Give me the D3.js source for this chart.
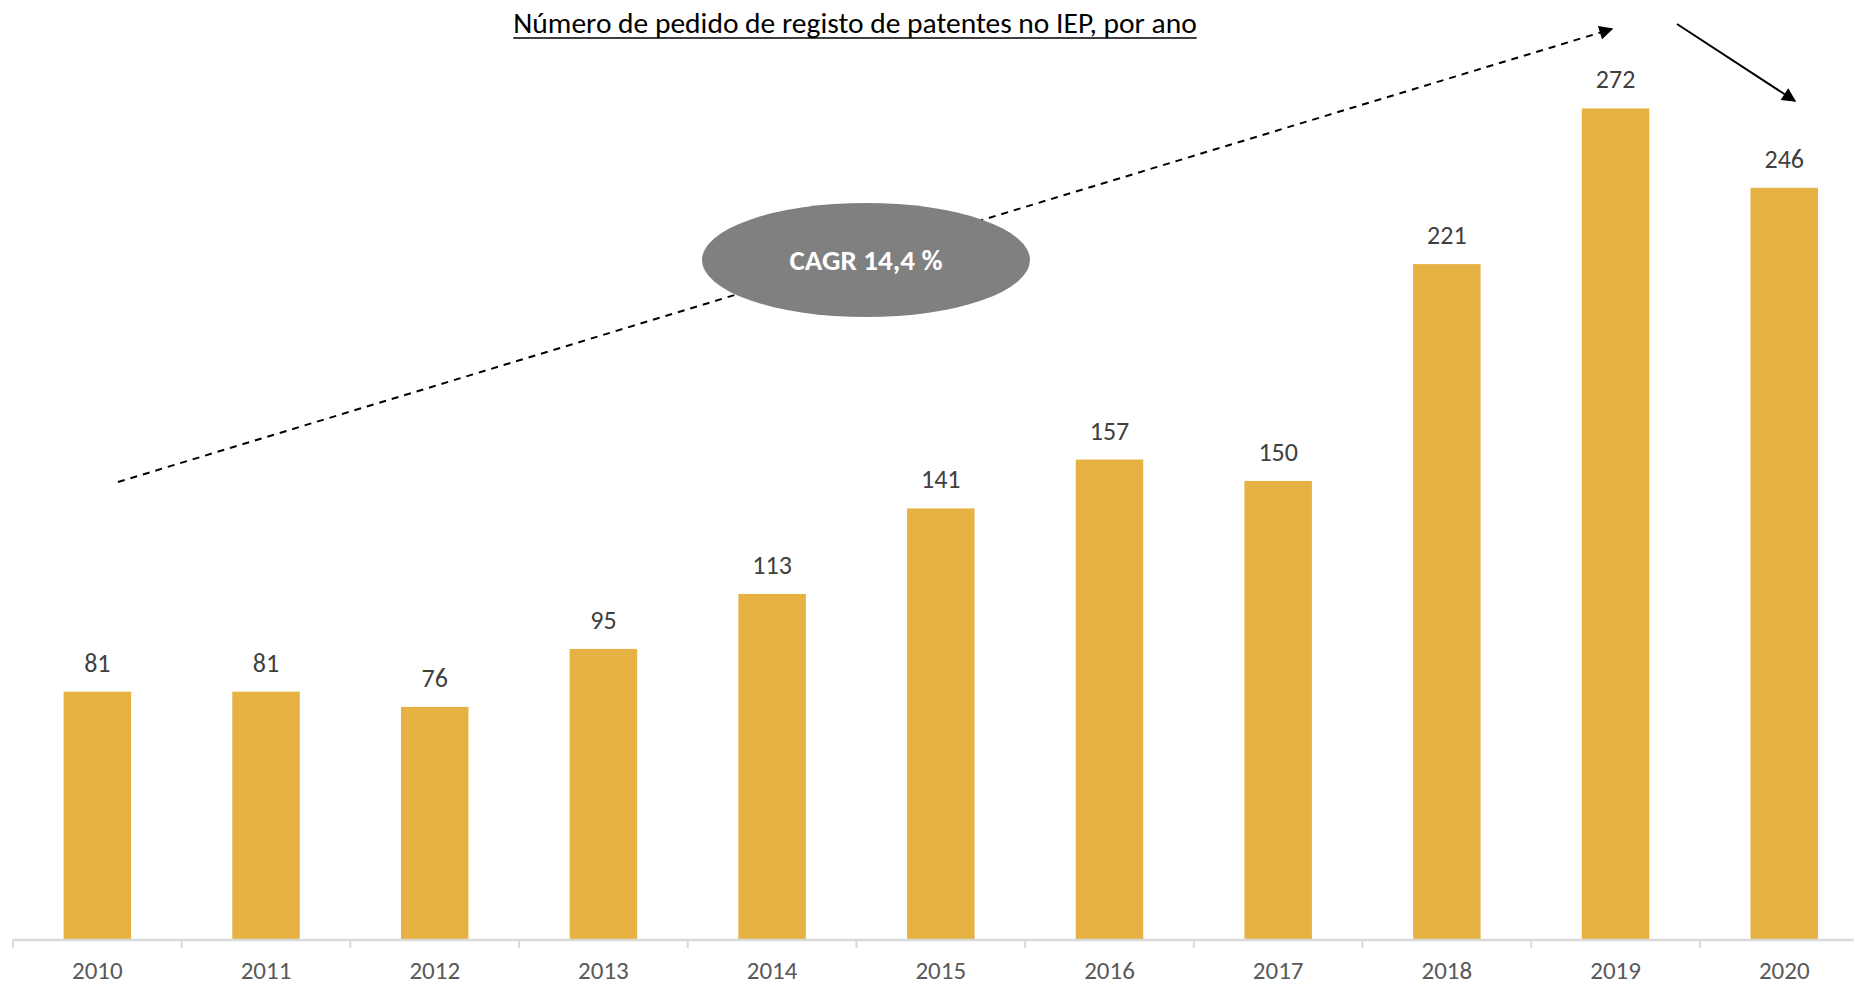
<!DOCTYPE html>
<html>
<head>
<meta charset="utf-8">
<script src="https://cdn.jsdelivr.net/npm/d3@7"></script>
<style>
  html, body { margin: 0; padding: 0; background: #fff; }
  svg { display: block; font-family: Carlito, Lato, "Open Sans", sans-serif; }
</style>
</head>
<body>
<svg id="chart" width="1854" height="985"></svg>
<script>
const years = ["2010","2011","2012","2013","2014","2015","2016","2017","2018","2019","2020"];
const values = [81, 81, 76, 95, 113, 141, 157, 150, 221, 272, 246];
const titleText = "Número de pedido de registo de patentes no IEP, por ano";
const cagrText = "CAGR 14,4 %";

const svg = d3.select("#chart");

const x = d3.scaleBand().domain(years).range([13, 1868.6]).paddingInner(0.6).paddingOuter(0.3);
const y = d3.scaleLinear().domain([0, 307.5]).range([939, 0]);

// bars
svg.append("g").selectAll("rect").data(values).join("rect")
  .attr("x", (d, i) => x(years[i]))
  .attr("y", d => y(d))
  .attr("width", x.bandwidth())
  .attr("height", d => y(0) - y(d))
  .attr("fill", "#E5B243");

// value labels
svg.append("g").selectAll("text").data(values).join("text")
  .attr("x", (d, i) => x(years[i]) + x.bandwidth() / 2)
  .attr("y", d => y(d) - 20)
  .attr("text-anchor", "middle")
  .attr("font-size", 26)
  .attr("fill", "#404040")
  .text(d => d);

// x axis
const axis = svg.append("g").attr("transform", "translate(0,940)");
axis.append("line").attr("x1", 13).attr("x2", 1868).attr("y1", 0).attr("y2", 0)
  .attr("stroke", "#d9d9d9").attr("stroke-width", 2.5);
const step = x.step();
axis.selectAll(".sep").data(d3.range(years.length + 1)).join("line")
  .attr("class", "sep")
  .attr("x1", i => 13 + i * step).attr("x2", i => 13 + i * step)
  .attr("y1", 0).attr("y2", 8)
  .attr("stroke", "#d9d9d9").attr("stroke-width", 2);
axis.selectAll(".yl").data(years).join("text")
  .attr("class", "yl")
  .attr("x", d => x(d) + x.bandwidth() / 2)
  .attr("y", 39)
  .attr("text-anchor", "middle")
  .attr("font-size", 25)
  .attr("fill", "#595959")
  .text(d => d);

// markers
const defs = svg.append("defs");
defs.append("marker").attr("id", "arr").attr("viewBox", "0 0 10 10")
  .attr("refX", 9).attr("refY", 5).attr("markerWidth", 7.5).attr("markerHeight", 7)
  .attr("markerUnits", "strokeWidth").attr("orient", "auto")
  .append("path").attr("d", "M0,0 L10,5 L0,10 Z").attr("fill", "#000");

// dashed trend arrow
svg.append("line")
  .attr("x1", 118).attr("y1", 482).attr("x2", 1612).attr("y2", 29)
  .attr("stroke", "#000").attr("stroke-width", 2)
  .attr("stroke-dasharray", "7,6")
  .attr("marker-end", "url(#arr)");

// solid arrow
svg.append("line")
  .attr("x1", 1677).attr("y1", 24).attr("x2", 1795).attr("y2", 101)
  .attr("stroke", "#000").attr("stroke-width", 2)
  .attr("marker-end", "url(#arr)");

// CAGR ellipse
svg.append("ellipse").attr("cx", 866).attr("cy", 260).attr("rx", 164).attr("ry", 57)
  .attr("fill", "#808080");
svg.append("text").attr("x", 866).attr("y", 270)
  .attr("text-anchor", "middle").attr("font-size", 29).attr("font-weight", "bold")
  .attr("fill", "#fff").text(cagrText);

// title
const t = svg.append("text").attr("x", 855).attr("y", 33)
  .attr("text-anchor", "middle").attr("font-size", 29.5).attr("fill", "#000")
  .text(titleText);
const bb = t.node().getBBox();
svg.append("line").attr("x1", bb.x).attr("x2", bb.x + bb.width)
  .attr("y1", 38).attr("y2", 38).attr("stroke", "#000").attr("stroke-width", 1.6);
</script>
</body>
</html>
